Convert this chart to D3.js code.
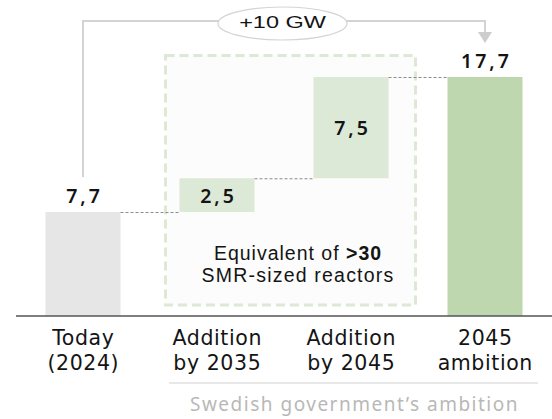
<!DOCTYPE html>
<html><head><meta charset="utf-8">
<script src="https://cdn.jsdelivr.net/npm/d3@7"></script>
<style>
html,body{margin:0;padding:0;background:#fff;}
svg{display:block;}
text{font-family:"Noto Sans","Open Sans",sans-serif;}
</style></head>
<body>
<svg id="chart" width="552" height="419"></svg>
<script>
const categories = ["Today\n(2024)", "Addition\nby 2035", "Addition\nby 2045", "2045\nambition"];
const values = [7.7, 2.5, 7.5, 17.7];
const valueLabels = ["7,7", "2,5", "7,5", "17,7"];
const barTypes = ["base", "add", "add", "total"];
const deltaLabel = "+10 GW";
const boxNote = ["Equivalent of ", ">30", "SMR-sized reactors"];
const footerLabel = "Swedish government’s ambition";

const svg = d3.select("#chart");
const baseY = 316;
const x = d3.scaleBand().domain(categories).range([16, 552]).paddingInner(0.44).paddingOuter(0.22);
const y = d3.scaleLinear().domain([0, 17.7]).range([baseY, 77]);
const cx = c => x(c) + x.bandwidth() / 2;

let cum = 0;
const bars = values.map((v, i) => {
  let start, end;
  if (barTypes[i] === "base") { start = 0; end = v; cum = v; }
  else if (barTypes[i] === "add") { start = cum; end = cum + v; cum = end; }
  else { start = 0; end = v; }
  return {cat: categories[i], v, start, end, label: valueLabels[i], type: barTypes[i]};
});
const colors = {base: "#e6e6e6", add: "#dde9d7", total: "#bfd7af"};

// dashed green box around the additions
svg.append("rect").attr("x", 165.5).attr("y", 55.5)
  .attr("width", 250).attr("height", 249.5)
  .attr("fill", "#fcfcfc").attr("stroke", "#dde8d5").attr("stroke-width", 3)
  .attr("stroke-dasharray", "9,5");

// bars
svg.selectAll("rect.bar").data(bars).join("rect").attr("class", "bar")
  .attr("x", d => x(d.cat)).attr("width", x.bandwidth())
  .attr("y", d => y(d.end)).attr("height", d => y(d.start) - y(d.end))
  .attr("fill", d => colors[d.type]);

// dotted connectors
for (let i = 0; i < bars.length - 1; i++) {
  const yy = y(bars[i].end) + 0.5;
  svg.append("line").attr("x1", x(bars[i].cat) + x.bandwidth()).attr("x2", x(bars[i+1].cat))
    .attr("y1", yy).attr("y2", yy).attr("stroke", "#8c8c8c").attr("stroke-width", 1)
    .attr("stroke-dasharray", "3,2");
}

// value labels
const ls = 3;
svg.selectAll("text.val").data(bars).join("text").attr("class", "val")
  .attr("x", d => cx(d.cat) + ls / 2)
  .attr("y", d => d.type === "add" ? (y(d.end) + y(d.start)) / 2 + 7.5 : y(d.end) - 9.5)
  .attr("text-anchor", "middle").attr("font-size", 19.5).attr("font-weight", 600)
  .attr("letter-spacing", ls + "px").attr("fill", "#141414")
  .text(d => d.label);

// axis baseline
svg.append("line").attr("x1", 16).attr("x2", 552).attr("y1", baseY).attr("y2", baseY)
  .attr("stroke", "#555").attr("stroke-width", 1.5);

// category labels
const catG = svg.selectAll("text.cat").data(categories).join("text").attr("class", "cat")
  .attr("y", 345).attr("text-anchor", "middle").attr("font-size", 20.5)
  .style("font-family", "'DejaVu Sans', sans-serif")
  .attr("letter-spacing", "0.6px").attr("fill", "#141414");
catG.selectAll("tspan").data(d => d.split("\n").map(s => ({s, c: d}))).join("tspan")
  .attr("x", d => cx(d.c) + 0.3)
  .attr("dy", (d, i) => i === 0 ? 0 : 25).text(d => d.s);

// box note
const noteX = 298;
const t1 = svg.append("text").attr("x", noteX).attr("y", 260).attr("text-anchor", "middle")
  .style("font-family", "'Liberation Sans', Arial, sans-serif")
  .attr("font-size", 19.5).attr("letter-spacing", "1px").attr("fill", "#141414");
t1.append("tspan").text(boxNote[0]);
t1.append("tspan").attr("font-weight", 700).text(boxNote[1]);
svg.append("text").attr("x", noteX).attr("y", 282).attr("text-anchor", "middle")
  .style("font-family", "'Liberation Sans', Arial, sans-serif")
  .attr("font-size", 19.5).attr("letter-spacing", "1.2px").attr("fill", "#141414").text(boxNote[2]);

// top bracket with +10 GW bubble
const xa = cx(categories[0]);
const xb = cx(categories[3]);
const topY = 21, ecx = 282.5, erx = 64.5, ery = 16.5, ecy = 23.5;
svg.append("path")
  .attr("d", `M${xa},177 V${topY} H${ecx - erx + 1} M${ecx + erx - 1},${topY} H${xb} V33`)
  .attr("fill", "none").attr("stroke", "#d3d3d3").attr("stroke-width", 2);
svg.append("path").attr("d", `M${xb - 7},32 L${xb + 7},32 L${xb},43 Z`).attr("fill", "#cdcdcd");
svg.append("ellipse").attr("cx", ecx).attr("cy", ecy).attr("rx", erx).attr("ry", ery)
  .attr("fill", "#fff").attr("stroke", "#d4d4d4").attr("stroke-width", 1.2);
svg.append("text").attr("transform", `translate(${ecx},28) scale(1.38,1)`)
  .attr("text-anchor", "middle")
  .style("font-family", "'Liberation Sans', Arial, sans-serif")
  .attr("font-size", 17).attr("fill", "#141414").text(deltaLabel);

// footer bracket
svg.append("line").attr("x1", 169).attr("x2", 538).attr("y1", 383).attr("y2", 383)
  .attr("stroke", "#e0e0e0").attr("stroke-width", 1.5);
svg.append("text").attr("x", 354.5).attr("y", 410.5).attr("text-anchor", "middle")
  .attr("font-size", 19).attr("letter-spacing", "1.5px").attr("fill", "#b8b8b8").text(footerLabel);
</script>
</body></html>
